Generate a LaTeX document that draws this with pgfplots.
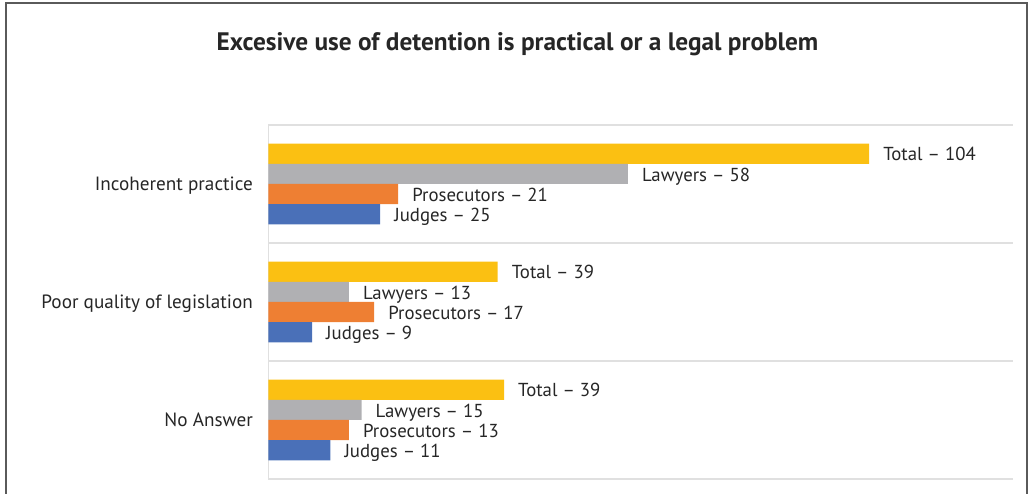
\documentclass[border=0pt]{standalone}
\usepackage{fontspec}
\setmainfont{PT Sans}
\usepackage{pgfplots}
\pgfplotsset{compat=1.18}
\definecolor{cTotal}{HTML}{FBC012}
\definecolor{cLaw}{HTML}{B0B0B3}
\definecolor{cPros}{HTML}{EE7F33}
\definecolor{cJud}{HTML}{4A70B8}
\definecolor{gridc}{HTML}{E0E0E0}
\definecolor{txt}{HTML}{262626}
\definecolor{frameC}{HTML}{5A5A5A}
\begin{document}
\begin{tikzpicture}[x=1pt,y=1pt]
\draw[frameC, line width=1.5pt] (6,0) -- (6,491) -- (1027,491) -- (1027,0);
\node[font=\bfseries\fontsize{25.3}{30}\selectfont, text=txt, anchor=base] at (517.5,443) {Excesive use of detention is practical or a legal problem};
\begin{axis}[
  at={(268.5pt,15pt)}, anchor=south west,
  scale only axis, width=744.5pt, height=354pt,
  xmin=0, xmax=124.08, ymin=-0.5, ymax=2.5,
  xbar, bar width=20.2pt,
  axis line style={draw=none},
  xtick=\empty,
  ytick={0,1,2}, yticklabels={No Answer, Poor quality of legislation, Incoherent practice},
  major tick length=0pt,
  yticklabel style={font=\fontsize{19.2}{23}\selectfont, text=txt, inner sep=0pt, text height=13.5pt, text depth=0pt, xshift=-15.5pt},
  extra y ticks={-0.5,0.5,1.5,2.5}, extra y tick labels={},
  extra y tick style={grid=major, major grid style={gridc, line width=1.5pt}},
  point meta=explicit symbolic,
  nodes near coords,
  every node near coord/.append style={font=\fontsize{18.8}{23}\selectfont, text=txt, anchor=base west, inner sep=0pt, xshift=14pt, yshift=-7.2pt},
  clip=false,
]
\draw[gridc, line width=1.5pt] (axis cs:0,-0.5) -- (axis cs:0,2.5);
\addplot[fill=cTotal, draw=none, bar shift=30.3pt] coordinates {(39.25,0) [Total -- 39] (38.2,1) [Total -- 39] (100.1,2) [Total -- 104]};
\addplot[fill=cLaw, draw=none, bar shift=10.1pt] coordinates {(15.5,0) [Lawyers -- 15] (13.4,1) [Lawyers -- 13] (59.9,2) [Lawyers -- 58]};
\addplot[fill=cPros, draw=none, bar shift=-10.1pt] coordinates {(13.4,0) [Prosecutors -- 13] (17.6,1) [Prosecutors -- 17] (21.6,2) [Prosecutors -- 21]};
\addplot[fill=cJud, draw=none, bar shift=-30.3pt] coordinates {(10.3,0) [Judges -- 11] (7.25,1) [Judges -- 9] (18.6,2) [Judges -- 25]};
\end{axis}
\pgfresetboundingbox
\path[use as bounding box] (0,0) rectangle (1028,494);
\end{tikzpicture}
\end{document}
